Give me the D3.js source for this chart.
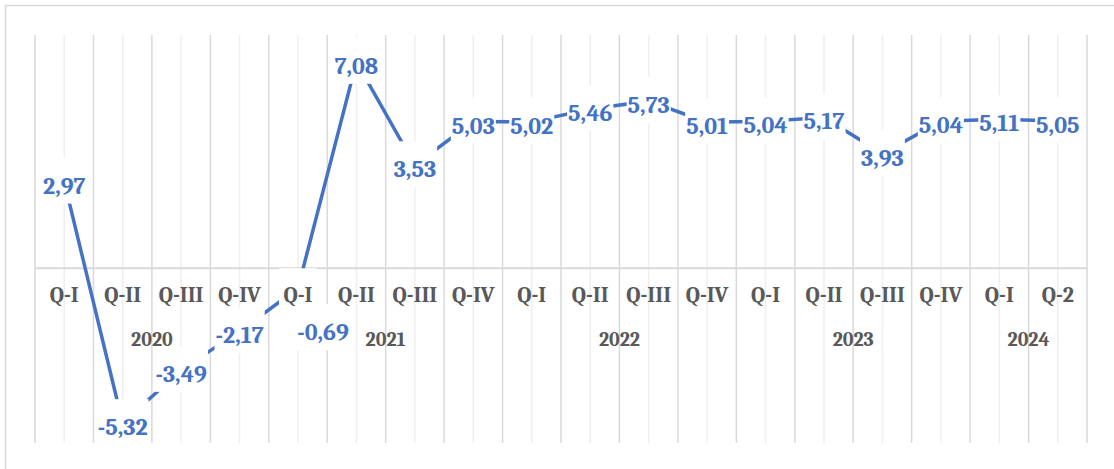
<html>
	<head>
		<meta charset="UTF-8">
		<title>Quarterly growth 2020-2024</title>
		<script src="https://d3js.org/d3.v7.min.js"></script>
	<style>
  body{
    margin: 0;
    background: #ffffff;
  }
  svg{
    display: block;
  }
		</style>
	</head>
	<body>
		<script type = "text/javascript">
			// data
			var quarters = ["Q-I","Q-II","Q-III","Q-IV","Q-I","Q-II","Q-III","Q-IV","Q-I","Q-II","Q-III","Q-IV","Q-I","Q-II","Q-III","Q-IV","Q-I","Q-2"];
			var quarterYears = ["2020","2020","2020","2020","2021","2021","2021","2021","2022","2022","2022","2022","2023","2023","2023","2023","2024","2024"];
			var years = ["2020","2021","2022","2023","2024"];
			var values = [2.97,-5.32,-3.49,-2.17,-0.69,7.08,3.53,5.03,5.02,5.46,5.73,5.01,5.04,5.17,3.93,5.04,5.11,5.05];
			var yDomain = [-6, 8];

			var width = 1114;
			var height = 469;
			var plotLeft = 35;
			var plotRight = 1087;
			var plotTop = 35;
			var plotBottom = 443;
			var blue = "#4472c4";
			var grey = "#595959";
			var font = "Cambria, 'Liberation Serif', 'DejaVu Serif', serif";
			// the -0,69 label was dragged away from its point
			var movedLabel = {index: 4, dx: 25, dy: 40};

			var locale = d3.formatLocale({decimal: ",", thousands: ".", grouping: [3], currency: ["", ""], minus: "-"});
			var fmt = locale.format(".2f");

			var idx = d3.range(values.length);

			var svg = d3.select("body")
						.append("svg")
						.attr("width",width)
						.attr("height",height);

			// chart border
			svg.append("rect")
				.attr("x",5.5)
				.attr("y",5.5)
				.attr("width",width+20)
				.attr("height",height+20)
				.attr("fill","#ffffff")
				.attr("stroke","#d9d9d9")
				.attr("stroke-width",1.5);

			var x = d3.scaleBand()
						.domain(idx)
						.range([plotLeft,plotRight]);
			var y = d3.scaleLinear()
						.domain(yDomain)
						.range([plotBottom,plotTop]);
			var cx = function(i){ return x(i) + x.bandwidth()/2 };

			// light lines through category centres
			svg.append("g").selectAll("line")
				.data(idx)
				.enter()
				.append("line")
				.attr("x1",function(d){ return cx(d) })
				.attr("x2",function(d){ return cx(d) })
				.attr("y1",plotTop)
				.attr("y2",plotBottom)
				.attr("stroke","#efefef")
				.attr("stroke-width",1.5);

			// darker lines on category boundaries
			svg.append("g").selectAll("line")
				.data(d3.range(values.length+1))
				.enter()
				.append("line")
				.attr("x1",function(d){ return plotLeft + d*x.step() })
				.attr("x2",function(d){ return plotLeft + d*x.step() })
				.attr("y1",plotTop)
				.attr("y2",plotBottom)
				.attr("stroke","#d9d9d9")
				.attr("stroke-width",1.5);

			// zero line
			svg.append("line")
				.attr("x1",plotLeft)
				.attr("x2",plotRight)
				.attr("y1",y(0))
				.attr("y2",y(0))
				.attr("stroke","#d9d9d9")
				.attr("stroke-width",2);

			var line = d3.line()
						.x(function(d,i){ return cx(i) })
						.y(function(d){ return y(d) });

			svg.append("path")
				.datum(values)
				.attr("d",line)
				.attr("fill","none")
				.attr("stroke",blue)
				.attr("stroke-width",3.5);

			// white boxes behind the data labels, then axis text, then label text
			var boxes = svg.append("g");
			var axisText = svg.append("g");
			var texts = svg.append("g").selectAll("text")
				.data(idx)
				.enter()
				.append("text")
				.text(function(d){ return fmt(values[d]) })
				.attr("x",function(d){
					return cx(d) + (d == movedLabel.index ? movedLabel.dx : 0)
				})
				.attr("y",function(d){
					return y(values[d]) + 4 + (d == movedLabel.index ? movedLabel.dy : 0)
				})
				.attr("text-anchor","middle")
				.attr("dominant-baseline","central")
				.attr("fill",blue)
				.style("font-family",font)
				.style("font-weight","bold")
				.style("font-size","24px");

			texts.each(function(d){
				var b = this.getBBox();
				var ly = +d3.select(this).attr("y");
				boxes.append("rect")
					.attr("x",b.x-1)
					.attr("y",ly-28)
					.attr("width",b.width+2)
					.attr("height",46)
					.attr("fill","#ffffff");
				if (d == movedLabel.index){
					// box left behind at the original spot
					boxes.append("rect")
						.attr("x",cx(d)-19)
						.attr("y",y(values[d])-20)
						.attr("width",38)
						.attr("height",42)
						.attr("fill","#ffffff");
				}
			});

			// category axis: quarters
			axisText.selectAll("text.q")
				.data(idx)
				.enter()
				.append("text")
				.attr("class","q")
				.text(function(d){ return quarters[d] })
				.attr("x",function(d){ return cx(d) })
				.attr("y",295)
				.attr("text-anchor","middle")
				.attr("dominant-baseline","central")
				.attr("fill",grey)
				.style("font-family",font)
				.style("font-weight","bold")
				.style("font-size","22px");

			// category axis: years, centred under their quarters
			axisText.selectAll("text.yr")
				.data(years)
				.enter()
				.append("text")
				.attr("class","yr")
				.text(function(d){ return d })
				.attr("x",function(d){
					var members = idx.filter(function(i){ return quarterYears[i] == d });
					return (x(members[0]) + x(members[members.length-1]) + x.bandwidth())/2
				})
				.attr("y",339)
				.attr("text-anchor","middle")
				.attr("dominant-baseline","central")
				.attr("fill",grey)
				.style("font-family",font)
				.style("font-weight","bold")
				.style("font-size","20px");
		</script>
	</body>
</html>
